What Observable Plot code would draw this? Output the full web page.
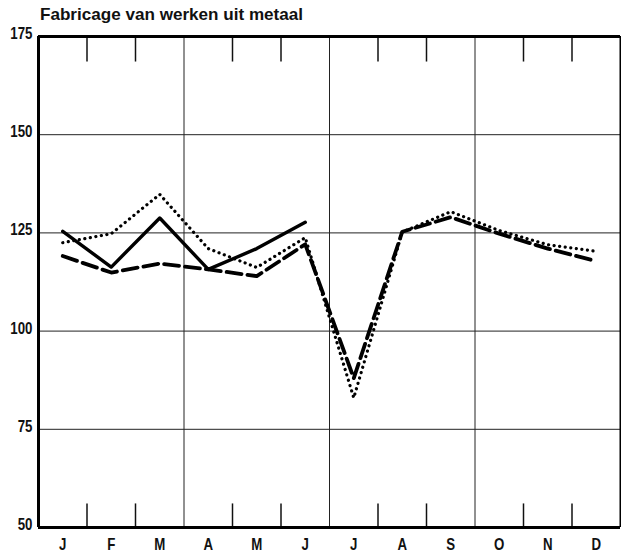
<!DOCTYPE html>
<html>
<head>
<meta charset="utf-8">
<script src="https://cdn.jsdelivr.net/npm/d3@7"></script>
<script src="https://cdn.jsdelivr.net/npm/@observablehq/plot@0.6"></script>
<style>
  body { margin: 0; background: #fff; width: 621px; height: 560px; overflow: hidden; }
  #title { height: 23px; position: relative; }
  #title span { position: absolute; left: 40px; top: 6px; font-family: "Liberation Sans", Arial, sans-serif; font-weight: bold; font-size: 17px; line-height: 18px; color: #111; white-space: nowrap; transform-origin: 0 0; }
  svg { display: block; }
</style>
</head>
<body>
<div id="title"><span>Fabricage van werken uit metaal</span></div>
<div id="chart"></div>
<script>
const months = ["J","F","M","A","M","J","J","A","S","O","N","D"];
const solidVals  = [125.4, 116.3, 128.8, 115.7, 121.0, 127.7];
const dottedVals = [122.5, 124.8, 134.8, 121.0, 116.2, 123.8, 83.0, 125.2, 130.4, 125.6, 122.0, 120.3];
const dashedVals = [119.1, 114.9, 117.2, 115.7, 114.0, 122.1, 88.0, 125.3, 129.0, 124.8, 121.0, 117.8];
const yTicks = [50, 75, 100, 125, 150, 175];
const innerGrid = [75, 100, 125, 150];
const quarterBounds = [3, 6, 9];
const monthBounds = [1, 2, 4, 5, 7, 8, 10, 11];

const toRows = vals => vals.map((v, i) => ({x: i + 0.5, y: v}));
const font = '"Liberation Sans", Arial, sans-serif';

const chart = Plot.plot({
  width: 621,
  height: 537,
  marginTop: 13,
  marginBottom: 33,
  marginLeft: 38,
  marginRight: 1,
  style: {fontFamily: font, fontWeight: "bold", fontSize: "17px", color: "#111"},
  x: {domain: [0, 12], axis: null},
  y: {domain: [50, 175], axis: null},
  marks: [
    Plot.ruleY(innerGrid, {stroke: "#222", strokeWidth: 1}),
    Plot.ruleX(quarterBounds, {stroke: "#222", strokeWidth: 1}),
    Plot.ruleX(monthBounds, {y1: 175, y2: 168.5, stroke: "#111", strokeWidth: 1.5}),
    Plot.ruleX(monthBounds, {y1: 50, y2: 56, stroke: "#111", strokeWidth: 1.5}),
    Plot.ruleY([50, 175], {stroke: "#000", strokeWidth: 3}),
    Plot.ruleX([0], {stroke: "#000", strokeWidth: 3}),
    Plot.ruleX([12], {stroke: "#000", strokeWidth: 2}),
    Plot.axisY(yTicks, {label: null, tickSize: 0, tickPadding: 6, dy: -3, fontSize: 17, fontWeight: "bold", fontFamily: font}),
    Plot.axisX(months.map((m, i) => i + 0.5), {label: null, tickSize: 0, tickPadding: 10, tickFormat: d => months[Math.floor(d)], fontSize: 17, fontWeight: "bold", fontFamily: font}),
    Plot.line(toRows(dottedVals), {x: "x", y: "y", stroke: "#000", strokeWidth: 3.2, strokeDasharray: "0.1,5.5", strokeLinecap: "round"}),
    Plot.line(toRows(dashedVals), {x: "x", y: "y", stroke: "#000", strokeWidth: 3.8, strokeDasharray: "15,6"}),
    Plot.line(toRows(solidVals), {x: "x", y: "y", stroke: "#000", strokeWidth: 3.4})
  ]
});
document.getElementById("chart").appendChild(chart);

// condense the text glyphs like the narrow typeface of the original
chart.querySelectorAll("text").forEach(t => {
  const len = t.getComputedTextLength();
  if (len > 0) {
    t.setAttribute("textLength", (len * 0.78).toFixed(2));
    t.setAttribute("lengthAdjust", "spacingAndGlyphs");
  }
});
const span = document.querySelector("#title span");
const w = span.getBoundingClientRect().width;
span.style.transform = `scaleX(${(263 / w).toFixed(3)})`;
</script>
</body>
</html>
